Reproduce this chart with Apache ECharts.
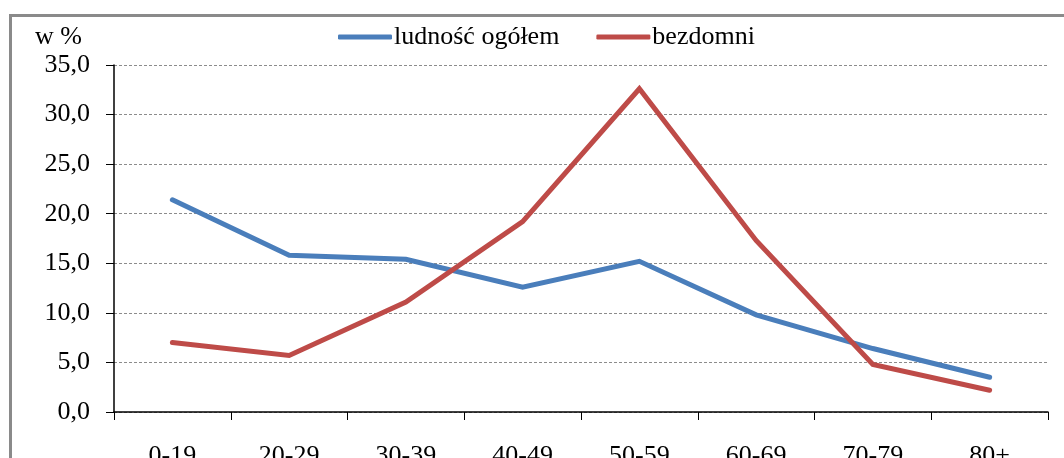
<!DOCTYPE html>
<html>
<head>
<meta charset="utf-8">
<script src="https://cdn.jsdelivr.net/npm/echarts@6/dist/echarts.min.js"></script>
<style>
  html, body { margin: 0; padding: 0; background: #fff; }
  #chart { width: 1064px; height: 458px; }
</style>
</head>
<body>
<div id="chart"></div>
<script>
// Age groups on the category axis
const ageGroups = ['0-19', '20-29', '30-39', '40-49', '50-59', '60-69', '70-79', '80+'];
// Share of each age group, in percent
const populationTotal = [21.4, 15.8, 15.4, 12.6, 15.2, 9.8, 6.4, 3.5];
const homeless = [7.0, 5.7, 11.1, 19.2, 32.6, 17.3, 4.8, 2.2];
// Value axis ticks
const yTicks = [0, 5, 10, 15, 20, 25, 30, 35];

const FONT = '"Liberation Serif", "Times New Roman", serif';
const chart = echarts.init(document.getElementById('chart'));

chart.setOption({
  animation: false,
  backgroundColor: '#ffffff',
  textStyle: { fontFamily: FONT },
  graphic: [
    {
      type: 'rect',
      shape: { x: 10.5, y: 15.5, width: 1200, height: 600 },
      style: { fill: 'none', stroke: '#8a8a8a', lineWidth: 3 },
      silent: true
    },
    {
      type: 'text',
      left: 35, top: 24,
      style: { text: 'w %', fontFamily: FONT, fontSize: 26, fill: '#000' }
    }
  ],
  legend: {
    top: 19,
    left: 333,
    itemWidth: 54,
    itemHeight: 5,
    itemGap: 37,
    icon: 'roundRect',
    textStyle: { fontFamily: FONT, fontSize: 26, color: '#000', padding: [0, 0, 0, -3] },
    data: ['ludność ogółem', 'bezdomni']
  },
  grid: { left: 114, right: 16, top: 65, bottom: 46, containLabel: false, outerBoundsMode: 'none' },
  xAxis: {
    type: 'category',
    data: ageGroups,
    boundaryGap: true,
    axisLine: { lineStyle: { color: '#000', width: 1.5 } },
    axisTick: { show: true, length: 8, lineStyle: { color: '#000' } },
    axisLabel: { fontFamily: FONT, fontSize: 26, color: '#000', margin: 31 }
  },
  yAxis: {
    type: 'value',
    min: yTicks[0],
    max: yTicks[yTicks.length - 1],
    interval: 5,
    axisLine: { show: true, lineStyle: { color: '#000', width: 1.5 } },
    axisTick: { show: true, length: 8, lineStyle: { color: '#000' } },
    axisLabel: {
      fontFamily: FONT, fontSize: 26, color: '#000', margin: 24,
      formatter: v => v.toFixed(1).replace('.', ',')
    },
    splitLine: { show: true, lineStyle: { color: '#8c8c8c', type: [3, 2], width: 1 } }
  },
  series: [
    {
      name: 'ludność ogółem',
      type: 'line',
      data: populationTotal,
      symbol: 'none',
      lineStyle: { color: '#4a7ebb', width: 5, cap: 'round', join: 'miter' },
      itemStyle: { color: '#4a7ebb' }
    },
    {
      name: 'bezdomni',
      type: 'line',
      data: homeless,
      symbol: 'none',
      lineStyle: { color: '#be4b48', width: 5, cap: 'round', join: 'miter' },
      itemStyle: { color: '#be4b48' }
    }
  ]
});
</script>
</body>
</html>
